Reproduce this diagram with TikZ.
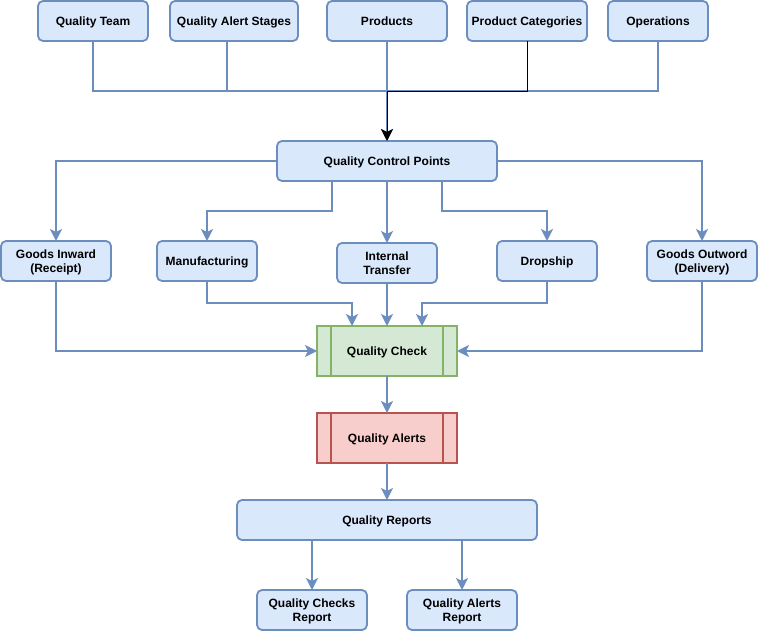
\documentclass[tikz,border=0pt]{standalone}
\usepackage{fontspec}
\setmainfont{Liberation Sans}
\usetikzlibrary{arrows.meta,positioning}
\definecolor{bluefill}{HTML}{DAE8FC}
\definecolor{bluedraw}{HTML}{6C8EBF}
\definecolor{greenfill}{HTML}{D5E8D4}
\definecolor{greendraw}{HTML}{82B366}
\definecolor{redfill}{HTML}{F8CECC}
\definecolor{reddraw}{HTML}{B85450}
\tikzset{
    %Define standard arrow tip
    >={Stealth[length=12pt,width=12pt,inset=3pt]},
    %Define style for boxes
    punktbox/.style={
           rectangle,
           rounded corners=5pt,
           draw=bluedraw, fill=bluefill, line width=1.8pt,
           minimum height=40pt,
           inner sep=2pt, outer sep=0pt,
           align=center, text depth=0pt,
           font=\bfseries\fontsize{12}{14}\selectfont},
    % Define style for process boxes
    processbox/.style={
           punktbox,
           sharp corners,
           draw=#1,
           minimum width=140pt, minimum height=50pt,
           path picture={
             \draw[line width=1.8pt,#1]
               ([xshift=14pt]path picture bounding box.north west) -- ([xshift=14pt]path picture bounding box.south west)
               ([xshift=-14pt]path picture bounding box.north east) -- ([xshift=-14pt]path picture bounding box.south east);}},
    % Define arrow style
    pil/.style={->, draw=bluedraw, line width=1.8pt},
    wire/.style={draw=bluedraw, line width=1.8pt}
}
\begin{document}
\begin{tikzpicture}
\useasboundingbox (0pt,0pt) rectangle (758pt,-631pt);
 %sources
\node[punktbox, minimum width=110pt] (qteam) at (93pt,-21pt) {Quality Team};
\node[punktbox, minimum width=128pt, right=22pt of qteam] (qas) {Quality Alert Stages};
\node[punktbox, minimum width=120pt, right=29pt of qas] (prod) {Products};
\node[punktbox, minimum width=120pt, right=20pt of prod] (pcat) {Product Categories};
\node[punktbox, minimum width=100pt, right=21pt of pcat] (ops) {Operations};
\coordinate[below=50pt of prod] (join);
 %control points
\node[punktbox, minimum width=220pt, below=100pt of prod] (qcp) {Quality Control Points};
\node[punktbox, minimum width=100pt, below=62pt of qcp] (itr) {Internal\\Transfer};
\node[punktbox, minimum width=100pt, left=80pt of itr, yshift=2pt] (mfg) {Manufacturing};
\node[punktbox, minimum width=110pt, left=46pt of mfg] (gin) {Goods Inward\\(Receipt)};
\node[punktbox, minimum width=100pt, right=60pt of itr, yshift=2pt] (drop) {Dropship};
\node[punktbox, minimum width=110pt, right=50pt of drop] (gout) {Goods Outword\\(Delivery)};
 %checks and reports
\node[processbox=greendraw, fill=greenfill, below=43pt of itr] (qchk) {Quality Check};
\node[processbox=reddraw, fill=redfill, below=37pt of qchk] (qalr) {Quality Alerts};
\node[punktbox, minimum width=300pt, below=37pt of qalr] (qrep) {Quality Reports};
\node[punktbox, minimum width=110pt, below=50pt of qrep, xshift=-75pt] (qcr) {Quality Checks\\Report};
\node[punktbox, minimum width=110pt, below=50pt of qrep, xshift=75pt] (qar) {Quality Alerts\\Report};
 %edges
\draw[wire] (qteam.south) |- (join);
\draw[wire] ([xshift=-7pt]qas.south) |- (join);
\draw[wire] (ops.south) |- (join);
\draw[pil] (prod.south) -- (qcp.north);
\draw[->, line width=0.9pt] (pcat.south) |- (join) -- (qcp.north);
\draw[pil] (qcp.west) -| (gin.north);
\draw[pil] (qcp.east) -| (gout.north);
\draw[pil] ([xshift=-55pt]qcp.south) -- ++(0,-30pt) -| (mfg.north);
\draw[pil] (qcp.south) -- (itr.north);
\draw[pil] ([xshift=55pt]qcp.south) -- ++(0,-30pt) -| (drop.north);
\draw[pil] (gin.south) |- (qchk.west);
\draw[pil] (mfg.south) -- ++(0,-22pt) -| ([xshift=-35pt]qchk.north);
\draw[pil] (itr.south) -- (qchk.north);
\draw[pil] (drop.south) -- ++(0,-22pt) -| ([xshift=35pt]qchk.north);
\draw[pil] (gout.south) |- (qchk.east);
\draw[pil] (qchk.south) -- (qalr.north);
\draw[pil] (qalr.south) -- (qrep.north);
\draw[pil] (qcr.north |- qrep.south) -- (qcr.north);
\draw[pil] (qar.north |- qrep.south) -- (qar.north);
\end{tikzpicture}
\end{document}
